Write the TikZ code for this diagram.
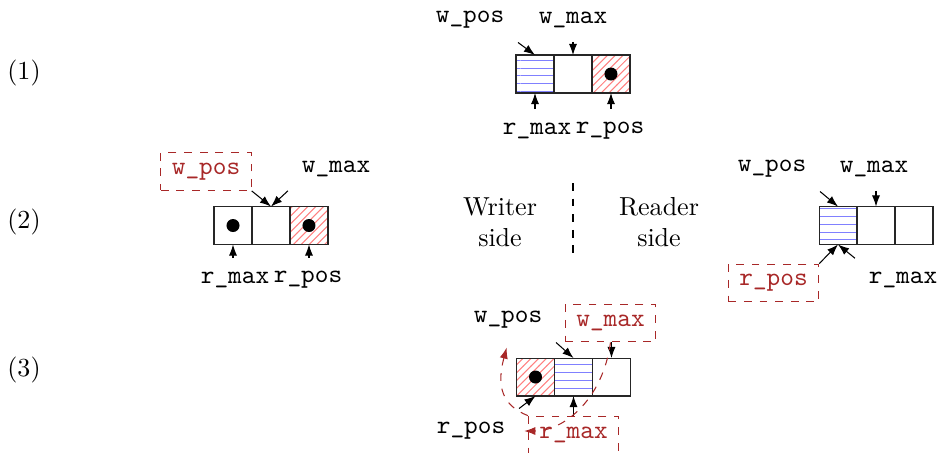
\documentclass[tikz,border=0pt]{standalone}
\usetikzlibrary{arrows.meta,positioning,patterns}
\definecolor{chgred}{HTML}{A82828}
\definecolor{hatchred}{HTML}{FF8080}
\definecolor{hatchblue}{HTML}{8080FF}
\tikzset{
  cell/.style={draw=black!85, minimum size=0.513cm, inner sep=0pt, outer sep=0pt},
  wcell/.style={cell, pattern=horizontal lines, pattern color=hatchblue},
  rcell/.style={cell, pattern=north east lines, pattern color=hatchred},
  lbl/.style={font=\ttfamily, outer sep=2pt},
  chgbox/.style={draw=chgred, dashed, text=chgred, font=\ttfamily,
                 minimum width=1.22cm, minimum height=0.51cm},
  ptr/.style={-{Latex[length=1.5mm,width=1.1mm]}},
  swaparr/.style={-{Latex[length=1.5mm,width=1.1mm]}, dashed, color=chgred}}

\begin{document}
\begin{tikzpicture}[x=0.0135cm, y=-0.0135cm]
  \useasboundingbox (0,0) rectangle (940,452);
  % step labels
  \node (s1) at (24,73) {(1)};
  \node (s2) at (24,222) {(2)};
  \node (s3) at (24,370) {(3)};
  % (1) initial state
  \node[wcell] (a1) at (535,74) {};
  \node[cell, right=0pt of a1] (a2) {};
  \node[rcell, right=0pt of a2] (a3) {};
  \fill (a3.center) circle (2.5pt);
  \node[lbl] (wpos1) at (470,20) {w\_pos};
  \node[lbl] (wmax1) at (573,20) {w\_max};
  \node[lbl] (rmax1) at (537,131) {r\_max};
  \node[lbl] (rpos1) at (610,131) {r\_pos};
  \draw[ptr] (wpos1.south east) -- (a1.north);
  \draw[ptr] (a2.north |- wmax1.south) -- (a2.north);
  \draw[ptr] (a1.south |- rmax1.north) -- (a1.south);
  \draw[ptr] (a3.south |- rpos1.north) -- (a3.south);
  % (2) writer side
  \node[cell] (b1) at (233,225.5) {};
  \node[cell, right=0pt of b1] (b2) {};
  \node[rcell, right=0pt of b2] (b3) {};
  \fill (b1.center) circle (2.5pt);
  \fill (b3.center) circle (2.5pt);
  \node[chgbox] (wpos2) at (206,171.5) {w\_pos};
  \node[lbl] (wmax2) at (336,169) {w\_max};
  \node[lbl] (rmax2) at (235,280) {r\_max};
  \node[lbl] (rpos2) at (308,280) {r\_pos};
  \draw[ptr] (wpos2.south east) -- (b2.north);
  \draw[ptr] (wmax2.south west) -- (b2.north);
  \draw[ptr] (b1.south |- rmax2.north) -- (b1.south);
  \draw[ptr] (b3.south |- rpos2.north) -- (b3.south);
  % the two sides
  \node[align=center] (wside) at (500,222) {Writer\\side};
  \node[align=center] (rside) at (659,222) {Reader\\side};
  \draw[dashed] (573,183) -- (573,255);
  % (2) reader side
  \node[wcell] (c1) at (838,225.5) {};
  \node[cell, right=0pt of c1] (c2) {};
  \node[cell, right=0pt of c2] (c3) {};
  \node[lbl] (wpos4) at (772,169) {w\_pos};
  \node[lbl] (wmax4) at (874,169) {w\_max};
  \node[chgbox] (rpos4) at (773.5,283) {r\_pos};
  \node[lbl] (rmax4) at (903,280) {r\_max};
  \draw[ptr] (wpos4.south east) -- (c1.north);
  \draw[ptr] (c2.north |- wmax4.south) -- (c2.north);
  \draw[ptr] (rpos4.north east) -- (c1.south);
  \draw[ptr] (rmax4.north west) -- (c1.south);
  % (3) after the swap
  \node[rcell] (d1) at (535.5,377) {};
  \node[wcell, right=0pt of d1] (d2) {};
  \node[cell, right=0pt of d2] (d3) {};
  \fill (d1.center) circle (2.5pt);
  \node[lbl] (wpos3) at (508,320) {w\_pos};
  \node[chgbox] (wmax3) at (610.5,323) {w\_max};
  \node[lbl] (rpos3) at (471,431) {r\_pos};
  \node[chgbox] (rmax3) at (573.5,435) {r\_max};
  \draw[ptr] (wpos3.south east) -- (d2.north);
  \draw[ptr] (d3.north |- wmax3.south) -- (d3.north);
  \draw[ptr] (rpos3.north east) -- (d1.south);
  \draw[ptr] (d2.south |- rmax3.north) -- (d2.south);
  \draw[swaparr, shorten >=2pt] (wmax3.south) .. controls +(-8,58) and +(44,0) .. (rpos3.east);
  \draw[swaparr, shorten >=2pt] (rmax3.north west) .. controls +(-25,-10) and +(-12,45) .. (wpos3.south);
\end{tikzpicture}
\end{document}
